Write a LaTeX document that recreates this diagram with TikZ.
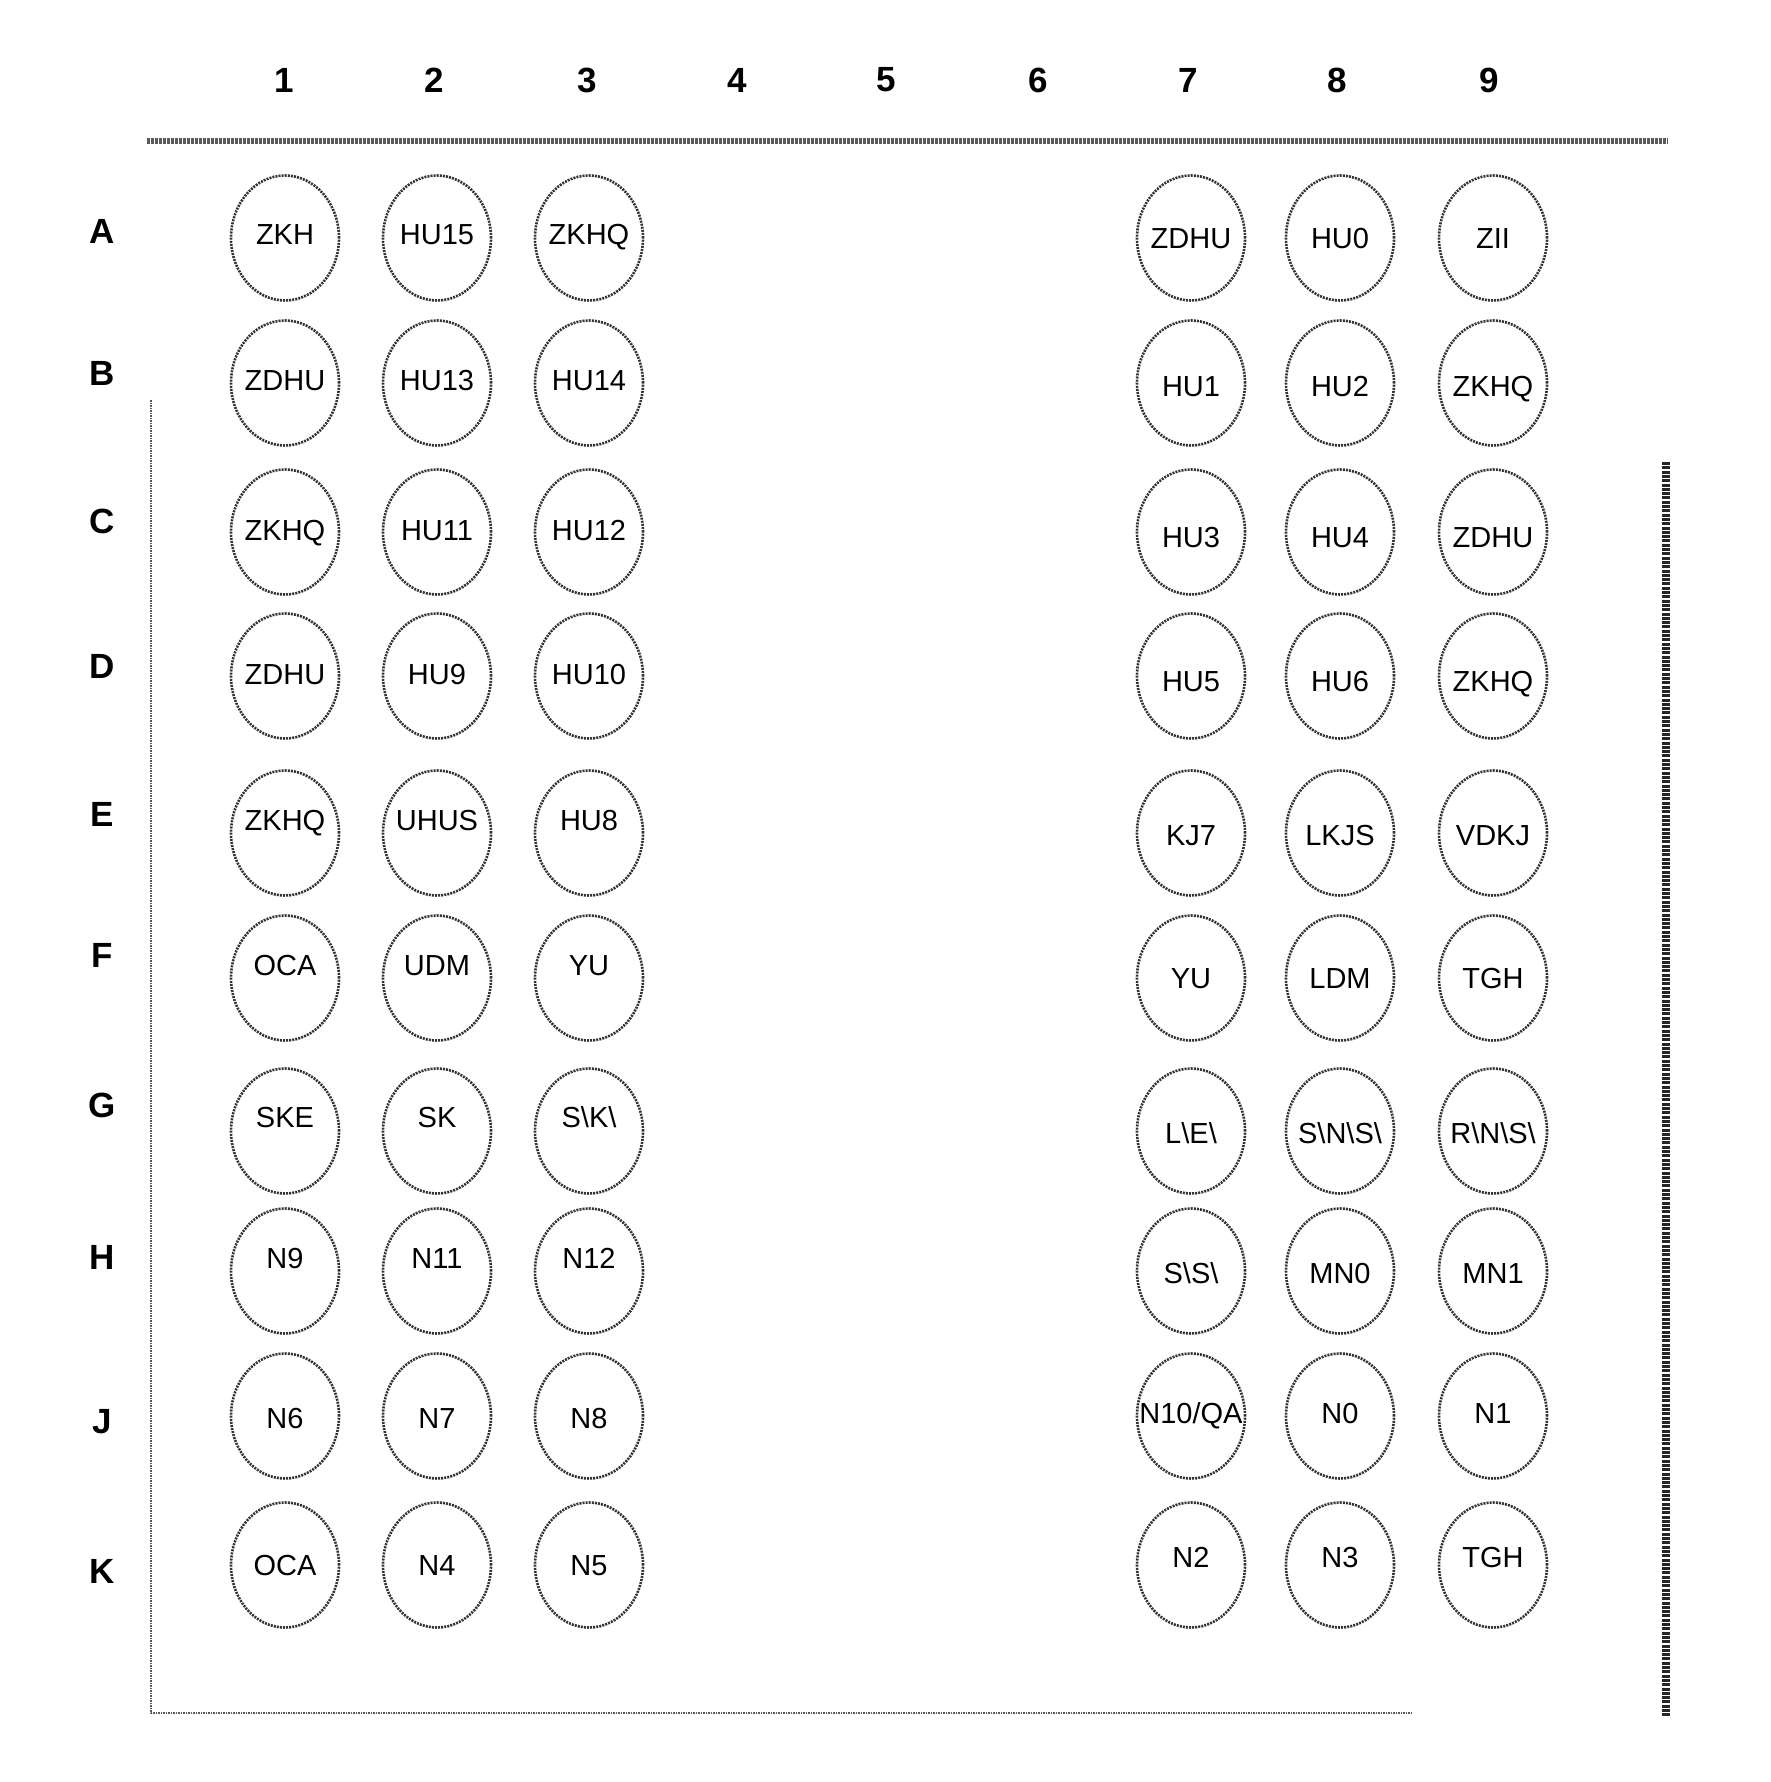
\documentclass[tikz,border=0pt]{standalone}
\usepackage{fontspec}
\setmainfont{Liberation Sans}
\usetikzlibrary{shapes.geometric}
\begin{document}
\begin{tikzpicture}[x=1pt,y=-1pt,
  ring/.style={draw=black!80, line width=2.6pt, dash pattern=on 2pt off 1.1pt,
    ellipse, minimum width=108pt, minimum height=125pt, inner sep=0pt},
  lbl/.style={font=\fontsize{29}{29}\selectfont, text height=21pt, text depth=0pt, inner sep=0pt},
  hdr/.style={font=\fontsize{35}{35}\selectfont\bfseries, inner sep=0pt},
  gridline/.style={draw=black!65}]
\useasboundingbox (0,0) rectangle (1770,1782);
% column headers
\foreach \n/\x in {1/284,2/434,3/587,4/737,5/886,6/1038,7/1188,8/1337,9/1489}
  \node[hdr] (c\n) at (\x,80) {\n};
% row headers
\foreach \r/\y in {A/231,B/373,C/521,D/666,E/814,F/955,G/1105,H/1257,J/1422,K/1571}
  \node[hdr] (r\r) at (102,\y) {\r};
% frame lines
\coordinate (tl) at (147,141); \coordinate (tr) at (1668,141);
\draw[gridline, line width=6pt, dash pattern=on 3pt off 1pt] (tl) -- (tr);
\coordinate (lt) at (151,400); \coordinate (lb) at (151,1713);
\coordinate (br) at (1412,1713);
\draw[gridline, line width=2.4pt, dash pattern=on 1.5pt off 1pt] (lt) -- (lb) -- (br);
\coordinate (rt) at (1666,462); \coordinate (rb) at (1666,1717);
\draw[draw=black!85, line width=8pt, dash pattern=on 3pt off 1.3pt] (rt) -- (rb);
% wells
\foreach \r/\y/\a/\b/\c/\d/\e/\f/\lo/\ro in {
  A/238/ZKH/HU15/ZKHQ/ZDHU/HU0/ZII/4/0,
  B/383/ZDHU/HU13/HU14/HU1/HU2/ZKHQ/3/-3,
  C/532/ZKHQ/HU11/HU12/HU3/HU4/ZDHU/2/-5,
  D/676/ZDHU/HU9/HU10/HU5/HU6/ZKHQ/2/-5,
  E/833/ZKHQ/UHUS/HU8/KJ7/LKJS/VDKJ/13/-2,
  F/978/OCA/UDM/YU/YU/LDM/TGH/13/0,
  G/1131/SKE/SK/S\textbackslash K\textbackslash/L\textbackslash E\textbackslash/S\textbackslash N\textbackslash S\textbackslash/R\textbackslash N\textbackslash S\textbackslash/14/-2,
  H/1271/N9/N11/N12/S\textbackslash S\textbackslash/MN0/MN1/13/-2,
  J/1416/N6/N7/N8/{N10/QA}/N0/N1/-2/3,
  K/1565/OCA/N4/N5/N2/N3/TGH/0/8}
{
  \node[ring] (\r1) at (285,\y) {};
  \node[ring] (\r2) at (437,\y) {};
  \node[ring] (\r3) at (589,\y) {};
  \node[ring] (\r7) at (1191,\y) {};
  \node[ring] (\r8) at (1340,\y) {};
  \node[ring] (\r9) at (1493,\y) {};
  \node[lbl] (t\r1) at ([yshift=\lo pt]\r1.center) {\a};
  \node[lbl] (t\r2) at ([yshift=\lo pt]\r2.center) {\b};
  \node[lbl] (t\r3) at ([yshift=\lo pt]\r3.center) {\c};
  \node[lbl] (t\r7) at ([yshift=\ro pt]\r7.center) {\d};
  \node[lbl] (t\r8) at ([yshift=\ro pt]\r8.center) {\e};
  \node[lbl] (t\r9) at ([yshift=\ro pt]\r9.center) {\f};
}
\end{tikzpicture}
\end{document}
